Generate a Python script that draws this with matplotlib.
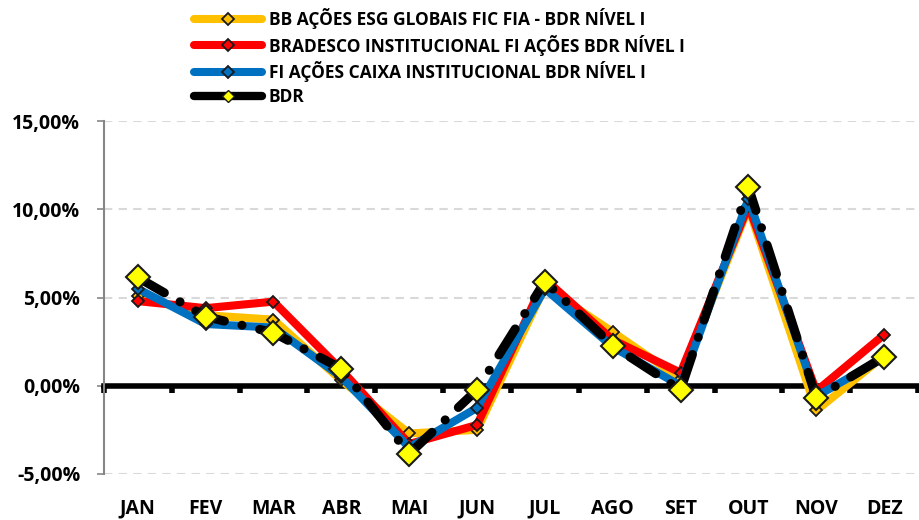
import numpy as np
import matplotlib.pyplot as plt
from matplotlib.lines import Line2D
from matplotlib.ticker import FuncFormatter

plt.rcParams['font.family'] = ['Open Sans', 'DejaVu Sans']
plt.rcParams['font.weight'] = 'bold'

meses = ['JAN', 'FEV', 'MAR', 'ABR', 'MAI', 'JUN', 'JUL', 'AGO', 'SET', 'OUT', 'NOV', 'DEZ']

# rentabilidade mensal (%)
bb_esg = [5.1, 4.0, 3.75, 0.3, -2.7, -2.5, 5.6, 3.05, 0.4, 10.1, -1.4, 1.7]
bradesco = [4.8, 4.4, 4.77, 0.9, -3.3, -2.22, 6.05, 2.6, 0.74, 10.2, -0.3, 2.9]
caixa = [5.5, 3.5, 3.3, 0.5, -3.5, -1.25, 5.5, 2.2, 0.0, 10.6, -0.6, 1.6]
bdr = [6.14, 3.92, 3.01, 0.97, -3.86, -0.23, 5.91, 2.27, -0.23, 11.25, -0.68, 1.65]

nomes = ['BB AÇÕES ESG GLOBAIS FIC FIA - BDR NÍVEL I',
         'BRADESCO INSTITUCIONAL FI AÇÕES BDR NÍVEL I',
         'FI AÇÕES CAIXA INSTITUCIONAL BDR NÍVEL I',
         'BDR']
cores = ['#FFC000', '#FF0000', '#0070C0', '#000000']

x = np.arange(len(meses))

fig = plt.figure(figsize=(9.19, 5.20), dpi=100)
ax = fig.add_axes([0.113, 0.0885, 0.886, 0.6785])

for serie, cor in zip([bb_esg, bradesco, caixa], cores[:3]):
    ax.plot(x, serie, color=cor, lw=5.8, solid_capstyle='round', solid_joinstyle='round',
            marker='D', ms=6.5, markerfacecolor=cor, markeredgecolor='#1a1a1a', mew=1.3, zorder=3)

ax.plot(x, bdr, color='black', lw=6.5, linestyle=(0, (3.4, 2.0, 0.01, 2.0)),
        dash_capstyle='round', zorder=4)
ax.plot(x, bdr, linestyle='none', marker='D', ms=12.5, markerfacecolor='#FFFF00',
        markeredgecolor='#1a1a1a', mew=1.5, zorder=5)

ax.set_xlim(-0.5, 11.5)
ax.set_ylim(-5, 15)
ax.set_yticks([-5, 0, 5, 10, 15])
ax.yaxis.set_major_formatter(FuncFormatter(lambda v, p: f'{v:.2f}%'.replace('.', ',')))
ax.yaxis.grid(True, linestyle=(0, (4, 3)), color='#D9D9D9', linewidth=1.5)
ax.set_axisbelow(True)

ax.set_xticks(x)
ax.set_xticklabels(meses)
ax.tick_params(axis='x', length=0, pad=18, labelsize=14)
ax.tick_params(axis='y', direction='out', length=5, color='#868686', width=1.2,
               labelsize=14, pad=12)

for lado in ['top', 'right', 'bottom']:
    ax.spines[lado].set_visible(False)
ax.spines['left'].set_color('#868686')
ax.spines['left'].set_linewidth(1.5)

# eixo das categorias no zero
eixo0 = ax.secondary_xaxis(0.25)
eixo0.set_xticks(np.arange(-0.5, 12, 1))
eixo0.set_xticklabels([])
eixo0.tick_params(direction='out', length=5, width=4, color='black')
eixo0.spines['bottom'].set_linewidth(4)
eixo0.spines['bottom'].set_color('black')
eixo0.set_zorder(2)

handles = []
for cor in cores[:3]:
    handles.append(Line2D([], [], color=cor, lw=5.8, solid_capstyle='round', marker='D', ms=6,
                          markerfacecolor=cor, markeredgecolor='#1a1a1a', mew=1.3))
handles.append(Line2D([], [], color='black', lw=6, solid_capstyle='round', marker='D', ms=6,
                      markerfacecolor='#FFFF00', markeredgecolor='#1a1a1a', mew=1.0))
fig.legend(handles, nomes, loc='upper left', bbox_to_anchor=(0.2, 1.005), frameon=False,
           fontsize=12.5, handlelength=3.9, handletextpad=0.4, labelspacing=0.33,
           borderaxespad=0.2)

fig.savefig('out.png', dpi=100)
